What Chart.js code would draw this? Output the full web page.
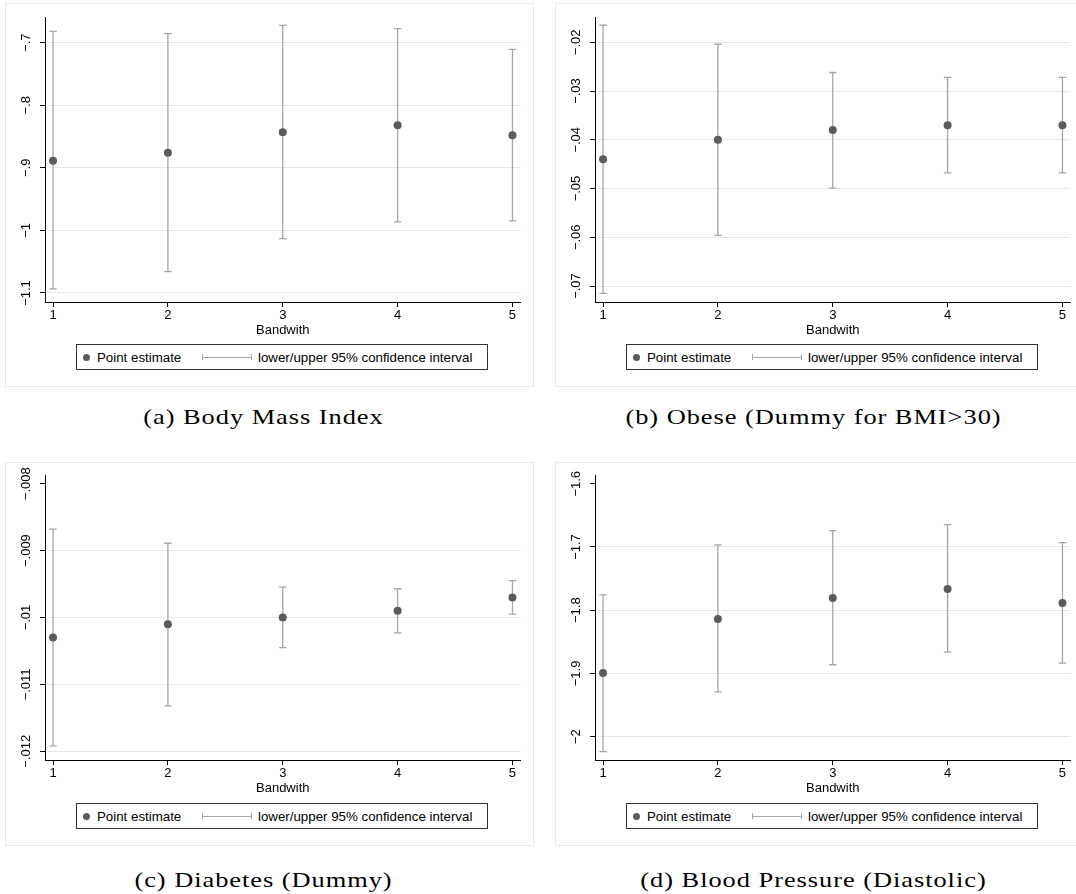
<!DOCTYPE html>
<html>
<head>
<meta charset="utf-8">
<script src="https://cdn.jsdelivr.net/npm/chart.js@4/dist/chart.umd.min.js"></script>
<style>
  html, body { margin: 0; padding: 0; background: #fff; }
  body { width: 1076px; height: 894px; position: relative; overflow: hidden; font-family: "Liberation Sans", Arial, sans-serif; }
  .panel { position: absolute; width: 529px; height: 384px; background: #fff; outline: 1px solid #e9e9e9; outline-offset: -1px; }
  .panel canvas { position: absolute; left: 0; top: 0; }
  .legend { position: absolute; left: 71px; top: 341px; width: 412px; height: 26px; box-sizing: border-box; border: 1px solid #333; background: #fff; }
  .legend .dot { position: absolute; left: 6px; top: 9px; width: 7px; height: 7px; border-radius: 50%; background: #5b5b5b; }
  .legend .txt { position: absolute; top: 0; line-height: 25px; font-size: 13.3px; color: #000; white-space: nowrap; }
  .legend .ci { position: absolute; left: 125px; top: 9px; width: 50px; height: 6px; }
  .legend .ci .h { position: absolute; left: 0; right: 0; top: 2.5px; height: 1px; background: #a6a6a6; }
  .legend .ci .l, .legend .ci .r { position: absolute; top: 0; width: 1px; height: 6px; background: #a6a6a6; }
  .legend .ci .l { left: 0; } .legend .ci .r { right: 0; }
  .caption { position: absolute; width: 529px; text-align: center; font-family: "Liberation Serif", "Times New Roman", serif; font-size: 22px; letter-spacing: 0.8px; line-height: 22px; color: #000; white-space: nowrap; transform: scaleX(1.2); transform-origin: 50% 50%; }
</style>
</head>
<body>
<script>
// ---- Data ----
const categories = [1, 2, 3, 4, 5];

const bmiEst = [-0.8885, -0.876, -0.843, -0.832, -0.848];
const bmiLo  = [-1.0935, -1.0658, -1.0132, -0.9864, -0.9848];
const bmiHi  = [-0.6818, -0.6856, -0.6722, -0.6776, -0.7106];
const bmiTicks = [-1.1, -1.0, -0.9, -0.8, -0.7];
const bmiTickLabels = ['\u22121.1', '\u22121', '\u2212.9', '\u2212.8', '\u2212.7'];

const obeseEst = [-0.0440, -0.0400, -0.0380, -0.0370, -0.0370];
const obeseLo  = [-0.0715, -0.0596, -0.0499, -0.0468, -0.0468];
const obeseHi  = [-0.0165, -0.0204, -0.0262, -0.0272, -0.0272];
const obeseTicks = [-0.07, -0.06, -0.05, -0.04, -0.03, -0.02];
const obeseTickLabels = ['\u2212.07', '\u2212.06', '\u2212.05', '\u2212.04', '\u2212.03', '\u2212.02'];

const diabEst = [-0.0103, -0.0101, -0.0100, -0.0099, -0.0097];
const diabLo  = [-0.01192, -0.01132, -0.01045, -0.01023, -0.00995];
const diabHi  = [-0.00868, -0.00889, -0.009545, -0.00957, -0.00945];
const diabTicks = [-0.012, -0.011, -0.010, -0.009, -0.008];
const diabTickLabels = ['\u2212.012', '\u2212.011', '\u2212.01', '\u2212.009', '\u2212.008'];

const bpEst = [-1.8994, -1.8137, -1.7806, -1.7663, -1.7885];
const bpLo  = [-2.0235, -1.929, -1.8862, -1.8662, -1.8835];
const bpHi  = [-1.7758, -1.6968, -1.6742, -1.6647, -1.6932];
const bpTicks = [-2.0, -1.9, -1.8, -1.7, -1.6];
const bpTickLabels = ['\u22122', '\u22121.9', '\u22121.8', '\u22121.7', '\u22121.6'];

const xTitle = 'Bandwith';
const legendLabels = ['Point estimate', 'lower/upper 95% confidence interval'];
const captions = ['(a) Body Mass Index', '(b) Obese (Dummy for BMI>30)', '(c) Diabetes (Dummy)', '(d) Blood Pressure (Diastolic)'];

// ---- Panels ----
const panels = [
  { left: 5,   top: 3,   est: bmiEst,   lo: bmiLo,   hi: bmiHi,   ticks: bmiTicks,   labels: bmiTickLabels,   ymin: -1.1144,  ymax: -0.6589,  padTop: 14, capTop: 406, caption: captions[0], topGrid: true },
  { left: 555, top: 3,   est: obeseEst, lo: obeseLo, hi: obeseHi, ticks: obeseTicks, labels: obeseTickLabels, ymin: -0.07328, ymax: -0.01481, padTop: 14, capTop: 406, caption: captions[1], topGrid: true },
  { left: 5,   top: 462, est: diabEst,  lo: diabLo,  hi: diabHi,  ticks: diabTicks,  labels: diabTickLabels,  ymin: -0.01213, ymax: -0.00787, padTop: 13, capTop: 869, caption: captions[2], topGrid: false },
  { left: 555, top: 462, est: bpEst,    lo: bpLo,    hi: bpHi,    ticks: bpTicks,    labels: bpTickLabels,    ymin: -2.0368,  ymax: -1.5862,  padTop: 13, capTop: 869, caption: captions[3], topGrid: false }
];

const FONT = '"Liberation Sans", Arial, sans-serif';
const yLabelPlugin = {
  id: 'yRotLabels',
  afterDraw(chart) {
    const s = chart.scales.y;
    const labels = chart.options.plugins.yRotLabels.labels;
    const ctx = chart.ctx;
    ctx.save();
    ctx.font = '13px ' + FONT;
    ctx.fillStyle = '#000';
    ctx.textAlign = 'center';
    ctx.textBaseline = 'alphabetic';
    s.ticks.forEach((t, i) => {
      const y = s.getPixelForValue(t.value);
      ctx.save();
      ctx.translate(s.right - 15.5, y);
      ctx.rotate(-Math.PI / 2);
      ctx.fillText(labels[i], 0, 0);
      ctx.restore();
    });
    ctx.restore();
  }
};

panels.forEach(p => {
  const div = document.createElement('div');
  div.className = 'panel';
  div.style.left = p.left + 'px';
  div.style.top = p.top + 'px';
  document.body.appendChild(div);

  const canvas = document.createElement('canvas');
  canvas.width = 529; canvas.height = 384;
  canvas.style.width = '529px'; canvas.style.height = '384px';
  div.appendChild(canvas);

  // legend (HTML)
  const lg = document.createElement('div');
  lg.className = 'legend';
  lg.innerHTML = '<div class="dot"></div><div class="txt" style="left:20px">' + legendLabels[0] +
    '</div><div class="ci"><div class="h"></div><div class="l"></div><div class="r"></div></div>' +
    '<div class="txt" style="left:181px">' + legendLabels[1] + '</div>';
  div.appendChild(lg);

  const cap = document.createElement('div');
  cap.className = 'caption';
  cap.style.left = (p.left - 6) + 'px';
  cap.style.top = p.capTop + 'px';
  cap.textContent = p.caption;
  document.body.appendChild(cap);

  const estData = categories.map((c, i) => ({ x: c, y: p.est[i] }));
  const ciData = [];
  categories.forEach((c, i) => {
    ciData.push({ x: c, y: p.lo[i] });
    ciData.push({ x: c, y: p.hi[i] });
    ciData.push({ x: c, y: null });
  });
  const topTick = p.ticks[p.ticks.length - 1];

  new Chart(canvas, {
    type: 'scatter',
    data: {
      datasets: [
        { label: legendLabels[0], data: estData, pointRadius: 4, pointHoverRadius: 4, pointBackgroundColor: '#5b5b5b', pointBorderWidth: 0, showLine: false },
        { label: legendLabels[1], data: ciData, showLine: true, spanGaps: false, borderColor: '#a6a6a6', borderWidth: 1.3,
          pointStyle: 'line', pointRadius: 3.7, pointHoverRadius: 3.7, pointBorderColor: '#a6a6a6', pointBorderWidth: 1.3 }
      ]
    },
    plugins: [yLabelPlugin],
    options: {
      responsive: false,
      animation: false,
      events: [],
      layout: { padding: { left: 0, right: 13.5, top: p.padTop, bottom: 63 - p.padTop } },
      plugins: {
        legend: { display: false },
        tooltip: { enabled: false },
        yRotLabels: { labels: p.labels }
      },
      scales: {
        x: {
          type: 'linear', min: 0.93, max: 5.07,
          afterBuildTicks: s => { s.ticks = categories.map(v => ({ value: v })); },
          afterFit: s => { s.height = 36; },
          ticks: { color: '#000', font: { family: FONT, size: 13 }, padding: 1, maxRotation: 0, callback: v => String(v) },
          grid: { drawOnChartArea: false, drawTicks: true, tickLength: 5, tickColor: '#000', tickWidth: 1 },
          border: { display: true, color: '#000', width: 1 },
          title: { display: true, text: xTitle, color: '#000', font: { family: FONT, size: 13 }, padding: { top: 0, bottom: 0 } }
        },
        y: {
          type: 'linear', min: p.ymin, max: p.ymax,
          afterBuildTicks: s => { s.ticks = p.ticks.map(v => ({ value: v })); },
          afterFit: s => { s.width = 40; },
          ticks: { display: false },
          grid: {
            color: c => (!p.topGrid && c.tick && c.tick.value === topTick) ? 'rgba(0,0,0,0)' : '#e6e6e6',
            lineWidth: 1, drawTicks: true, tickLength: 5, tickColor: '#000', tickWidth: 1
          },
          border: { display: true, color: '#000', width: 1 }
        }
      }
    }
  });
});
</script>
</body>
</html>
